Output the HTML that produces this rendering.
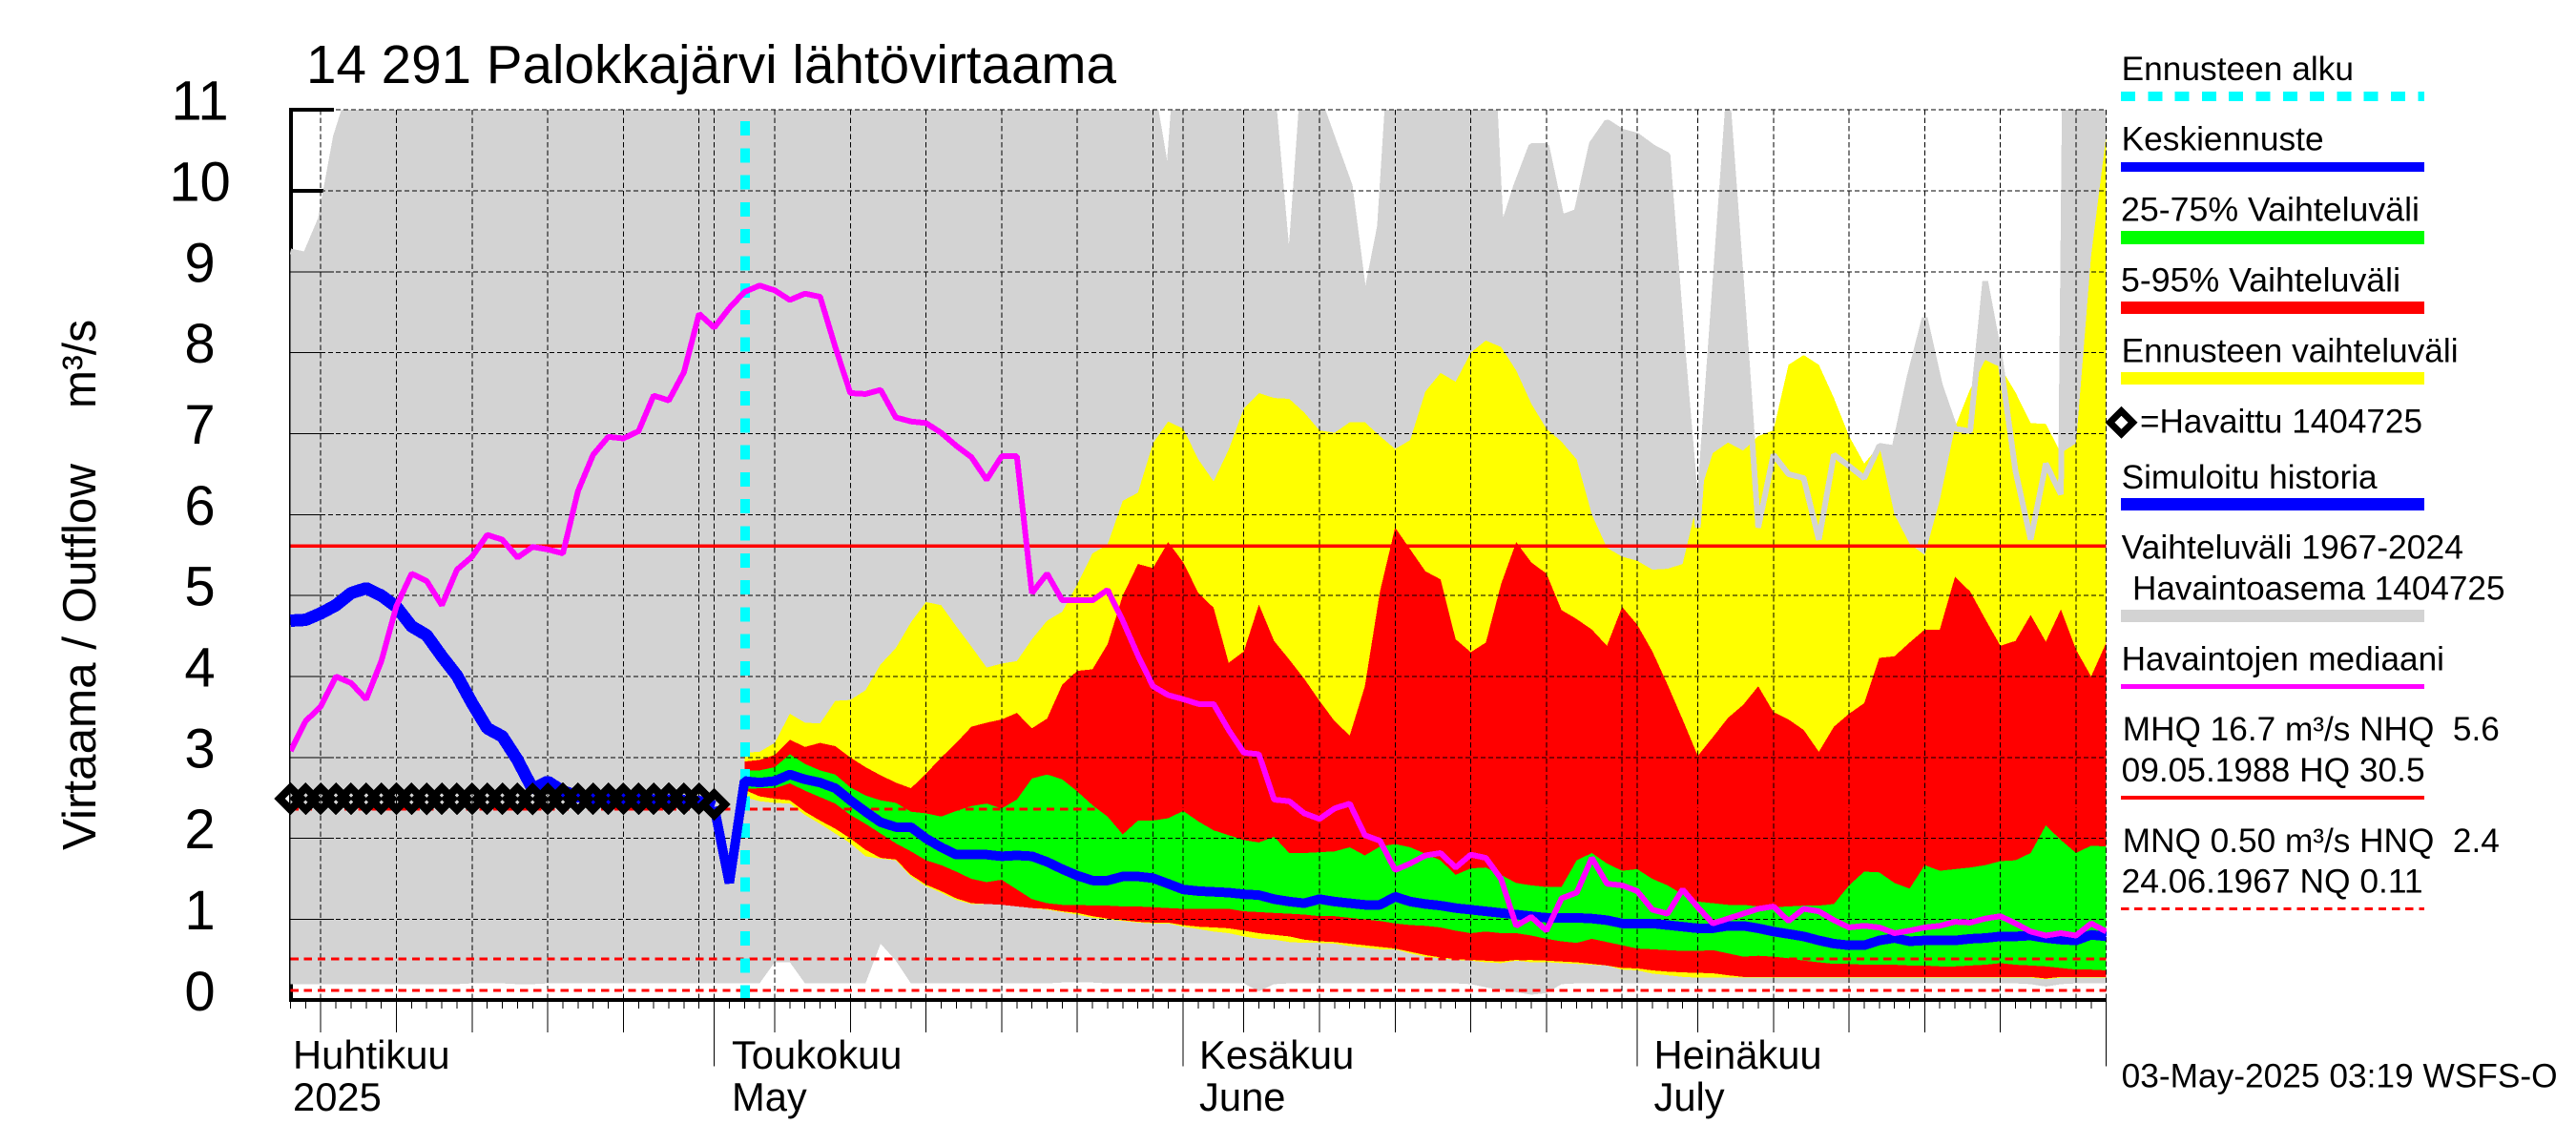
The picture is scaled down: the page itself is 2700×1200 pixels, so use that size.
<!DOCTYPE html>
<html lang="fi">
<head>
<meta charset="utf-8">
<title>14 291 Palokkajärvi lähtövirtaama</title>
<style>
html,body{margin:0;padding:0;background:#fff;}
svg{display:block;}
text{font-family:"Liberation Sans",sans-serif;fill:#000;}
.lg{font-size:35.3px;}
.xl{font-size:41.7px;}
</style>
</head>
<body>
<svg id="chart" xmlns="http://www.w3.org/2000/svg" width="2700" height="1200" viewBox="0 0 2700 1200">
  <rect x="0" y="0" width="2700" height="1200" fill="#ffffff"/>
  <defs>
    <clipPath id="plot-clip"><rect x="304" y="115" width="1904" height="934"/></clipPath>
  </defs>
  <g id="plot"></g>

  <text x="321" y="87" font-size="56.3" textLength="849" lengthAdjust="spacingAndGlyphs">14 291 Palokkajärvi lähtövirtaama</text>
  <text transform="translate(100,891) rotate(-90)" font-size="49" textLength="405" lengthAdjust="spacingAndGlyphs">Virtaama / Outflow</text>
  <text transform="translate(100,428) rotate(-90)" font-size="49" textLength="93" lengthAdjust="spacingAndGlyphs">m³/s</text>

  <g>
    <text class="lg" x="2223.6" y="84" textLength="243.4" lengthAdjust="spacingAndGlyphs">Ennusteen alku</text>
    <line x1="2223" y1="101" x2="2541" y2="101" stroke="#00ffff" stroke-width="10" stroke-dasharray="15 13.3" shape-rendering="crispEdges"/>
    <text class="lg" x="2223.6" y="157.7" textLength="212" lengthAdjust="spacingAndGlyphs">Keskiennuste</text>
    <rect x="2223" y="170" width="318" height="10" fill="#0000ff"/>
    <text class="lg" x="2223" y="231.5" textLength="313" lengthAdjust="spacingAndGlyphs">25-75% Vaihteluväli</text>
    <rect x="2223" y="242" width="318" height="14" fill="#00ff00"/>
    <text class="lg" x="2223" y="305.4" textLength="293" lengthAdjust="spacingAndGlyphs">5-95% Vaihteluväli</text>
    <rect x="2223" y="316" width="318" height="13" fill="#ff0000"/>
    <text class="lg" x="2223.6" y="379.6" textLength="353" lengthAdjust="spacingAndGlyphs">Ennusteen vaihteluväli</text>
    <rect x="2223" y="390" width="318" height="13" fill="#ffff00"/>
    <polygon points="2223.6,430.8 2235.6,442.8 2223.6,454.8 2211.6,442.8" fill="none" stroke="#000" stroke-width="7" stroke-linejoin="miter" shape-rendering="crispEdges"/>
    <text class="lg" x="2243" y="453.5" textLength="296" lengthAdjust="spacingAndGlyphs">=Havaittu 1404725</text>
    <text class="lg" x="2223.6" y="512" textLength="268" lengthAdjust="spacingAndGlyphs">Simuloitu historia</text>
    <rect x="2223" y="522" width="318" height="13" fill="#0000ff"/>
    <text class="lg" x="2223.6" y="585.5" textLength="358.4" lengthAdjust="spacingAndGlyphs">Vaihteluväli 1967-2024</text>
    <text class="lg" x="2235" y="628.7" textLength="390.5" lengthAdjust="spacingAndGlyphs">Havaintoasema 1404725</text>
    <rect x="2223" y="639" width="318" height="13" fill="#d3d3d3"/>
    <text class="lg" x="2223.6" y="702.6" textLength="338.4" lengthAdjust="spacingAndGlyphs">Havaintojen mediaani</text>
    <rect x="2223" y="717" width="318" height="5" fill="#ff00ff"/>
    <text class="lg" x="2224.8" y="776" textLength="395" lengthAdjust="spacingAndGlyphs" xml:space="preserve">MHQ 16.7 m³/s NHQ  5.6</text>
    <text class="lg" x="2223.6" y="819" textLength="318" lengthAdjust="spacingAndGlyphs">09.05.1988 HQ 30.5</text>
    <rect x="2223" y="834" width="318" height="4" fill="#ff0000"/>
    <text class="lg" x="2224.8" y="892.8" textLength="395" lengthAdjust="spacingAndGlyphs" xml:space="preserve">MNQ 0.50 m³/s HNQ  2.4</text>
    <text class="lg" x="2223.6" y="935.6" textLength="316" lengthAdjust="spacingAndGlyphs">24.06.1967 NQ 0.11</text>
    <line x1="2223" y1="952.5" x2="2541" y2="952.5" stroke="#ff0000" stroke-width="3" stroke-dasharray="8.3 5.9" shape-rendering="crispEdges"/>
  </g>
  <text class="lg" x="2223.6" y="1139.6" textLength="457" lengthAdjust="spacingAndGlyphs">03-May-2025 03:19 WSFS-O</text>
</svg>

<script>
// Categories: day index 0 = 3 Apr 2025, day 120 = 1 Aug 2025.
const forecastStartDay = 30;
const meanForecastFirstDay = 28;
const yTickValues = [0,1,2,3,4,5,6,7,8,9,10,11];
const yTickLabels = ["0","1","2","3","4","5","6","7","8","9","10","11"];
const gridDays = [2,7,12,17,22,27,28,32,37,42,47,52,57,59,63,68,73,78,83,88,89,93,98,103,108,113,118,120];
const fiveDayTickDays = [2,7,12,17,22,32,37,42,47,52,63,68,73,78,83,93,98,103,108,113];
const monthTickDays = [28,59,89,120];
const monthLabelDays = [0.16,29.16,60.06,90.1];
const monthLabelsFi = ["Huhtikuu","Toukokuu","Kesäkuu","Heinäkuu"];
const monthLabelsEn = ["2025","May","June","July"];
const refLevelsSolid = [5.61];
const refLevelsDashed = [2.36,0.51,0.12];

// Historical range, days 0-120 (off-scale values are clipped by the plot top)
const rangeUpper = [
9.25,9.21,9.65,10.67,11.26,13,13,13,13,13,
13,13,13,13,13,13,13,13,13,13,
13,13,13,13,13,13,13,13,13,13,
13,13,13,13,13,13,13,13,13,13,
13,13,13,13,13,13,13,13,13,13,
13,13,13,13,13,13,13,11.2,10.08,12.6,
13,13,13,13,13,11.0,8.88,11.5,11.1,10.58,
10.06,8.61,9.56,12.5,13,13,13,13,13,13.2,
9.47,10.06,10.55,10.55,9.67,9.74,10.58,10.85,10.73,10.68,
10.54,10.44,8.03,5.84,8.43,11.05,8.52,5.84,6.74,6.5,
6.45,5.69,6.74,6.6,6.45,6.85,6.82,7.7,8.43,7.6,
7.06,7.03,8.88,7.89,6.54,5.69,6.63,6.25,25,14,12];
const rangeLower = [
0.2,0.2,0.2,0.2,0.2,0.2,0.2,0.2,0.2,0.2,
0.2,0.2,0.21,0.21,0.21,0.2,0.2,0.21,0.21,0.21,
0.21,0.21,0.21,0.21,0.21,0.21,0.21,0.21,0.21,0.21,
0.21,0.21,0.47,0.47,0.21,0.21,0.21,0.21,0.21,0.7,
0.49,0.21,0.21,0.21,0.21,0.21,0.21,0.21,0.21,0.21,
0.21,0.22,0.22,0.22,0.21,0.21,0.21,0.21,0.21,0.21,
0.21,0.21,0.21,0.21,0.11,0.2,0.21,0.21,0.21,0.21,
0.21,0.21,0.21,0.21,0.21,0.21,0.21,0.21,0.2,0.16,
0.13,0.1,0.07,0.09,0.2,0.21,0.21,0.21,0.21,0.21,
0.21,0.21,0.21,0.21,0.21,0.21,0.21,0.21,0.21,0.21,
0.21,0.21,0.21,0.21,0.21,0.21,0.21,0.21,0.21,0.21,
0.21,0.21,0.21,0.21,0.21,0.2,0.17,0.2,0.21,0.21,0.21];

// Forecast bands, days 30-120
const forecastMaxUpper = [
3.06,3.07,3.18,3.54,3.43,3.42,3.7,3.71,3.83,4.15,
4.35,4.67,4.92,4.88,4.62,4.37,4.11,4.16,4.19,4.46,
4.69,4.8,5.14,5.52,5.63,6.17,6.27,6.88,7.15,7.06,
6.68,6.41,6.8,7.31,7.5,7.44,7.43,7.26,7.04,7.01,
7.14,7.14,6.97,6.81,6.92,7.52,7.75,7.64,8.0,8.15,
8.07,7.78,7.37,7.06,6.9,6.68,6.0,5.59,5.48,5.43,
5.32,5.33,5.39,6.18,6.76,6.89,6.79,6.97,7.04,7.85,
7.97,7.85,7.44,6.97,6.63,6.85,6.0,5.64,5.5,6.18,
7.08,7.55,7.91,7.82,7.51,7.13,7.12,6.76,6.88,9.2,10.69];
const forecastMinLower = [
2.51,2.46,2.44,2.43,2.29,2.18,2.06,1.94,1.78,1.75,
1.73,1.53,1.41,1.33,1.24,1.19,1.19,1.18,1.16,1.14,
1.12,1.09,1.06,1.02,1.0,0.98,0.96,0.95,0.95,0.91,
0.88,0.85,0.83,0.79,0.76,0.75,0.72,0.71,0.71,0.7,
0.67,0.65,0.63,0.63,0.58,0.54,0.52,0.5,0.49,0.47,
0.46,0.49,0.47,0.47,0.46,0.45,0.44,0.43,0.38,0.37,
0.33,0.31,0.29,0.28,0.28,0.28,0.28,0.28,0.28,0.28,
0.28,0.28,0.28,0.28,0.28,0.28,0.28,0.28,0.28,0.28,
0.28,0.28,0.28,0.28,0.28,0.28,0.26,0.28,0.28,0.28,0.28];
const p95Upper = [
2.95,2.97,3.03,3.22,3.13,3.18,3.14,3.0,2.88,2.78,
2.69,2.62,2.8,3.0,3.18,3.38,3.43,3.47,3.55,3.36,
3.48,3.9,4.07,4.09,4.4,5.0,5.39,5.34,5.66,5.41,
5.03,4.85,4.17,4.31,4.89,4.44,4.21,3.97,3.7,3.45,
3.27,3.88,5.05,5.84,5.57,5.3,5.2,4.46,4.3,4.42,
5.14,5.66,5.41,5.27,4.82,4.71,4.58,4.38,4.86,4.64,
4.31,3.9,3.47,3.02,3.25,3.49,3.65,3.88,3.56,3.47,
3.34,3.07,3.38,3.54,3.67,4.23,4.25,4.42,4.58,4.58,
5.23,5.05,4.71,4.38,4.44,4.76,4.43,4.83,4.33,4.0,4.42];
const p5Lower = [
2.6,2.52,2.49,2.47,2.33,2.22,2.12,2.0,1.86,1.76,
1.74,1.55,1.43,1.35,1.26,1.2,1.19,1.18,1.16,1.14,
1.13,1.1,1.08,1.04,1.01,0.99,0.97,0.96,0.96,0.93,
0.91,0.9,0.89,0.86,0.83,0.81,0.79,0.75,0.73,0.72,
0.7,0.68,0.66,0.64,0.6,0.56,0.53,0.51,0.5,0.49,
0.48,0.5,0.5,0.49,0.48,0.47,0.45,0.43,0.4,0.395,
0.37,0.355,0.345,0.34,0.335,0.31,0.29,0.29,0.29,0.29,
0.29,0.29,0.29,0.29,0.29,0.29,0.29,0.29,0.29,0.29,
0.29,0.29,0.29,0.29,0.29,0.29,0.27,0.29,0.29,0.29,0.29];
const p75Upper = [
2.84,2.84,2.88,3.04,2.92,2.84,2.79,2.63,2.53,2.47,
2.44,2.33,2.31,2.27,2.34,2.4,2.43,2.37,2.48,2.74,
2.79,2.73,2.58,2.41,2.27,2.05,2.22,2.22,2.25,2.34,
2.21,2.1,2.04,1.98,1.95,2.02,1.82,1.82,1.83,1.84,
1.89,1.79,1.9,1.93,1.89,1.81,1.73,1.55,1.63,1.64,
1.55,1.45,1.42,1.4,1.4,1.73,1.82,1.69,1.6,1.62,
1.5,1.42,1.31,1.22,1.2,1.18,1.18,1.16,1.15,1.16,
1.17,1.17,1.19,1.42,1.59,1.58,1.45,1.38,1.67,1.6,
1.62,1.64,1.67,1.72,1.73,1.82,2.16,1.98,1.82,1.91,1.9];
const p25Lower = [
2.61,2.62,2.62,2.68,2.59,2.51,2.43,2.29,2.18,2.06,
1.94,1.84,1.73,1.67,1.59,1.5,1.46,1.49,1.37,1.25,
1.2,1.18,1.18,1.17,1.17,1.16,1.16,1.15,1.14,1.13,
1.13,1.13,1.13,1.1,1.09,1.08,1.07,1.06,1.04,1.04,
1.02,1.0,0.98,0.95,0.93,0.92,0.9,0.86,0.83,0.85,
0.83,0.83,0.8,0.76,0.73,0.71,0.76,0.72,0.68,0.64,
0.63,0.62,0.61,0.61,0.62,0.58,0.54,0.55,0.54,0.52,
0.49,0.47,0.45,0.45,0.44,0.44,0.44,0.43,0.43,0.42,
0.42,0.43,0.44,0.46,0.44,0.43,0.42,0.4,0.38,0.38,0.37];

// Simulated history then mean forecast, days 0-120
const meanFlow = [
4.69,4.7,4.78,4.88,5.03,5.09,5.0,4.86,4.62,4.51,
4.25,4.01,3.67,3.36,3.26,2.97,2.61,2.7,2.58,2.52,
2.5,2.49,2.48,2.48,2.47,2.47,2.46,2.45,2.39,1.45,
2.71,2.69,2.71,2.79,2.73,2.69,2.62,2.47,2.33,2.2,
2.14,2.14,2.0,1.89,1.8,1.8,1.8,1.78,1.79,1.78,
1.71,1.62,1.54,1.48,1.48,1.53,1.53,1.51,1.44,1.37,
1.35,1.34,1.33,1.31,1.3,1.25,1.22,1.2,1.25,1.22,
1.2,1.18,1.18,1.28,1.22,1.19,1.17,1.14,1.12,1.1,
1.08,1.06,1.04,1.02,1.02,1.02,1.01,0.99,0.95,0.95,
0.95,0.93,0.91,0.89,0.89,0.92,0.92,0.89,0.85,0.82,
0.79,0.74,0.7,0.68,0.68,0.74,0.77,0.73,0.74,0.74,
0.74,0.76,0.77,0.79,0.79,0.8,0.77,0.75,0.74,0.81,0.79];

// Median of observations, days 0-120
const medianFlow = [
3.08,3.45,3.63,4.0,3.92,3.72,4.19,4.87,5.27,5.18,
4.88,5.32,5.48,5.75,5.69,5.47,5.6,5.57,5.52,6.29,
6.74,6.96,6.94,7.03,7.47,7.41,7.76,8.48,8.31,8.55,
8.75,8.83,8.77,8.65,8.73,8.69,8.07,7.5,7.49,7.54,
7.2,7.15,7.13,7.01,6.85,6.71,6.43,6.72,6.72,5.03,
5.27,4.94,4.94,4.94,5.07,4.69,4.26,3.88,3.77,3.72,
3.66,3.66,3.34,3.06,3.04,2.48,2.46,2.31,2.24,2.37,
2.43,2.04,1.97,1.61,1.69,1.79,1.82,1.64,1.8,1.76,
1.5,0.92,1.03,0.86,1.26,1.33,1.76,1.44,1.42,1.35,
1.12,1.07,1.37,1.15,0.95,1.01,1.07,1.13,1.16,0.98,
1.13,1.1,0.99,0.9,0.92,0.9,0.83,0.86,0.9,0.92,
0.97,0.96,1.01,1.04,0.95,0.85,0.8,0.83,0.8,0.95,0.85];

// Observed flow (diamond markers), days 0-28
const observedFlow = [
2.49,2.49,2.49,2.49,2.49,2.49,2.49,2.49,2.49,2.49,
2.49,2.49,2.49,2.49,2.49,2.49,2.49,2.49,2.49,2.49,
2.49,2.49,2.49,2.49,2.49,2.49,2.49,2.49,2.42];

const SVG_NS = "http://www.w3.org/2000/svg";
const plot = document.getElementById("plot");
function xScale(day){ return 304.5 + 15.86 * day; }
function yScale(v){ return 1048.4 - 84.85 * v; }
function make(tag, attrs, parent){
  const el = document.createElementNS(SVG_NS, tag);
  for (const k in attrs) el.setAttribute(k, attrs[k]);
  (parent || plot).appendChild(el);
  return el;
}
function bandPoints(upper, lower, start){
  const pts = [];
  upper.forEach(function(v,i){ pts.push(xScale(start+i).toFixed(1)+","+yScale(v).toFixed(1)); });
  for (let i = lower.length-1; i >= 0; i--) pts.push(xScale(start+i).toFixed(1)+","+yScale(lower[i]).toFixed(1));
  return pts.join(" ");
}
function linePoints(values, start){
  return values.map(function(v,i){ return xScale(start+i).toFixed(1)+","+yScale(v).toFixed(1); }).join(" ");
}

// Axis frame sits beneath the grey range, which trims it to a hairline where they overlap
const leftAxis = make("line", {x1:305, y1:113, x2:305, y2:1050, stroke:"#000", "stroke-width":4, "shape-rendering":"crispEdges"});



yTickValues.forEach(function(v){
  if (v === 0) return;
  const t = make("line", {x1:304, y1:yScale(v), x2:350, y2:yScale(v), stroke:"#000", "stroke-width":4, "shape-rendering":"crispEdges"});
  
  
});

const clipped = make("g", {"clip-path":"url(#plot-clip)"});



const rangeBand = make("polygon", {points:bandPoints(rangeUpper,rangeLower,0), fill:"#d3d3d3", "shape-rendering":"crispEdges"}, clipped);



const forecastBand = make("polygon", {points:bandPoints(forecastMaxUpper,forecastMinLower,forecastStartDay), fill:"#ffff00", "shape-rendering":"crispEdges"}, clipped);



const redBand = make("polygon", {points:bandPoints(p95Upper,p5Lower,forecastStartDay), fill:"#ff0000", "shape-rendering":"crispEdges"}, clipped);



const greenBand = make("polygon", {points:bandPoints(p75Upper,p25Lower,forecastStartDay), fill:"#00ff00", "shape-rendering":"crispEdges"}, clipped);



const rangeLine = make("polyline", {points:linePoints(rangeUpper,0), fill:"none", stroke:"#d3d3d3", "stroke-width":6, "stroke-linejoin":"bevel", "shape-rendering":"crispEdges"}, clipped);



// Grid
gridDays.forEach(function(d){
  const g = make("line", {x1:xScale(d), y1:yScale(11), x2:xScale(d), y2:yScale(0), stroke:"#000", "stroke-width":1, "stroke-dasharray":"5.5 3", "shape-rendering":"crispEdges"});
  
  
});
yTickValues.forEach(function(v){
  if (v === 0) return;
  const g = make("line", {x1:304, y1:yScale(v), x2:2207.6, y2:yScale(v), stroke:"#000", "stroke-width":1, "stroke-dasharray":"5 3", "shape-rendering":"crispEdges"});
  
  
});

// Reference lines
refLevelsSolid.forEach(function(v){
  const l = make("line", {x1:304.5, y1:yScale(v), x2:2207.6, y2:yScale(v), stroke:"#ff0000", "stroke-width":3.4, "shape-rendering":"crispEdges"});
  
  
});
refLevelsDashed.forEach(function(v){
  const l = make("line", {x1:304.5, y1:yScale(v), x2:2207.6, y2:yScale(v), stroke:"#ff0000", "stroke-width":3, "stroke-dasharray":"8.3 5.85", "shape-rendering":"crispEdges"});
  
  
});

// Forecast start
const startLine = make("line", {x1:781, y1:127, x2:781, y2:1048, stroke:"#00ffff", "stroke-width":10, "stroke-dasharray":"15 13.3", "shape-rendering":"crispEdges"});



// Axes
const bottomAxis = make("line", {x1:304, y1:1048, x2:2208, y2:1048, stroke:"#000", "stroke-width":4, "shape-rendering":"crispEdges"});



yTickValues.forEach(function(v,i){
  if (v > 0) {
    const t = make("line", {x1:304, y1:yScale(v), x2:(v % 2 || v === 2) ? 350 : 339, y2:yScale(v), stroke:"#000", "stroke-width":1, "shape-rendering":"crispEdges"});
    
    
  }
  const lab = make("text", {x:209.5, y:yScale(v)+10.5, "font-size":58, "text-anchor":"middle"});
  lab.textContent = yTickLabels[i];
  
  
});

for (let d = 0; d <= 120; d++) {
  const t = make("line", {x1:xScale(d), y1:1048, x2:xScale(d), y2:1057, stroke:"#000", "stroke-width":1, "shape-rendering":"crispEdges"});
  
  
}
fiveDayTickDays.forEach(function(d){
  const t = make("line", {x1:xScale(d), y1:1048, x2:xScale(d), y2:1082, stroke:"#000", "stroke-width":1, "shape-rendering":"crispEdges"});
  
  
});
monthTickDays.forEach(function(d){
  const t = make("line", {x1:xScale(d), y1:1048, x2:xScale(d), y2:1117.5, stroke:"#000", "stroke-width":1, "shape-rendering":"crispEdges"});
  
  
});
monthLabelDays.forEach(function(d,i){
  const a = make("text", {x:xScale(d), y:1120, class:"xl"});
  a.textContent = monthLabelsFi[i];
  
  
  const b = make("text", {x:xScale(d), y:1164, class:"xl"});
  b.textContent = monthLabelsEn[i];
  
  
});

// Series lines: simulated history is drawn heavier than the mean forecast
const lineClip = make("g", {"clip-path":"url(#plot-clip)"});



const simulatedLine = make("polyline", {points:linePoints(meanFlow.slice(0, meanForecastFirstDay+1),0), fill:"none", stroke:"#0000ff", "stroke-width":13, "stroke-linejoin":"bevel", "shape-rendering":"crispEdges"}, lineClip);



const meanLine = make("polyline", {points:linePoints(meanFlow.slice(meanForecastFirstDay),meanForecastFirstDay), fill:"none", stroke:"#0000ff", "stroke-width":10, "stroke-linejoin":"bevel", "shape-rendering":"crispEdges"}, lineClip);



const medianLine = make("polyline", {points:linePoints(medianFlow,0), fill:"none", stroke:"#ff00ff", "stroke-width":6, "stroke-linejoin":"bevel", "shape-rendering":"crispEdges"}, lineClip);



observedFlow.forEach(function(v,i){
  const cx = xScale(i), cy = yScale(v), r = 11.5;
  const pts = [cx+","+(cy-r), (cx+r)+","+cy, cx+","+(cy+r), (cx-r)+","+cy].join(" ");
  const m = make("polygon", {points:pts, fill:"none", stroke:"#000", "stroke-width":8, "stroke-linejoin":"miter", "shape-rendering":"crispEdges"});
  
  
});
</script>
</body>
</html>
